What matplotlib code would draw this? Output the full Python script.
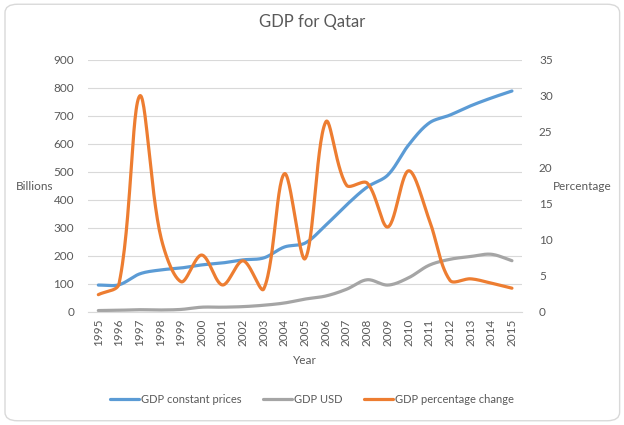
import numpy as np
import matplotlib
matplotlib.use("Agg")
import matplotlib.pyplot as plt
from matplotlib.patches import FancyBboxPatch

plt.rcParams['font.family'] = ['Lato', 'DejaVu Sans']

years = list(range(1995, 2016))
gdp_constant = [96, 97, 136, 150, 157, 168, 175, 186, 193, 232, 246,
                310, 382, 446, 489, 596, 675, 703, 736, 764, 789]
gdp_usd = [5, 6, 8, 7, 9, 17, 17, 19, 24, 32, 46,
           57, 81, 115, 96, 122, 167, 188, 198, 206, 183]
gdp_pct = [2.4, 3.9, 30.0, 10.7, 4.2, 7.9, 3.75, 7.1, 3.2, 19.2, 7.4,
           26.4, 17.6, 17.9, 11.8, 19.6, 12.8, 4.4, 4.6, 4.0, 3.3]


def smooth(x, y, sx, sy, n=30):
    """Excel-like smoothed line: Bezier through the points, control arms
    scaled by segment lengths in screen units (sx, sy = px per data unit)"""
    P = np.column_stack([np.asarray(x, float) * sx, np.asarray(y, float) * sy])
    m = len(P)
    ext = np.vstack([P[0], P, P[-1]])
    out = []
    t = np.linspace(0, 1, n)[:, None]
    # control points around each point
    before, after = [], []
    for i in range(m):
        prv, cur, nxt = ext[i], ext[i + 1], ext[i + 2]
        d1 = np.linalg.norm(cur - prv)
        d2 = np.linalg.norm(nxt - cur)
        T = nxt - prv
        s = d1 + d2 if d1 + d2 > 0 else 1
        before.append(cur - T * d1 / s / 3)
        after.append(cur + T * d2 / s / 3)
    for i in range(m - 1):
        p0, c1, c2, p3 = P[i], after[i], before[i + 1], P[i + 1]
        b = (1 - t) ** 3 * p0 + 3 * (1 - t) ** 2 * t * c1 + 3 * (1 - t) * t ** 2 * c2 + t ** 3 * p3
        out.append(b)
    b = np.vstack(out)
    return b[:, 0] / sx, b[:, 1] / sy


txt = "#595959"
grid = "#d9d9d9"

fig = plt.figure(figsize=(6.24, 4.25), dpi=100)
fig.patches.append(FancyBboxPatch((0.008, 0.01), 0.985, 0.98,
                                  boxstyle="round,pad=0,rounding_size=0.02",
                                  transform=fig.transFigure, facecolor="none",
                                  edgecolor=grid, linewidth=1, zorder=-5))

ax = fig.add_axes([0.141, 0.266, 0.696, 0.593])
ax2 = ax.twinx()
ax.set_zorder(ax2.get_zorder() - 1)
ax.patch.set_visible(False)
ax2.patch.set_visible(False)

px_year = 20.6
l1, = ax.plot(*smooth(years, gdp_constant, px_year, 252 / 900), color="#5b9bd5", lw=2.3,
              solid_capstyle="round", label="GDP constant prices")
l2, = ax.plot(*smooth(years, gdp_usd, px_year, 252 / 900), color="#a5a5a5", lw=2.3,
              solid_capstyle="round", label="GDP USD")
l3, = ax2.plot(*smooth(years, gdp_pct, px_year, 252 / 35), color="#ed7d31", lw=2.3,
               solid_capstyle="round", label="GDP percentage change")

ax.set_xlim(1994.5, 2015.5)
ax.set_ylim(0, 900)
ax2.set_ylim(0, 35)
ax.set_yticks(range(0, 901, 100))
ax2.set_yticks(range(0, 36, 5))
ax.set_xticks(years)
ax.set_xticklabels([str(y) for y in years], rotation=90)
ax.grid(axis="y", color=grid, linewidth=0.8)
ax.set_axisbelow(True)

for a in (ax, ax2):
    for s in a.spines.values():
        s.set_visible(False)
    a.tick_params(length=0, labelsize=8.5, colors=txt)
ax.spines["bottom"].set_visible(True)
ax.spines["bottom"].set_color(grid)
ax.tick_params(axis="y", pad=10)
ax2.tick_params(axis="y", pad=12)
ax.tick_params(axis="x", pad=5)

fig.text(35 / 624, 1 - 187 / 425, "Billions", ha="center", va="center", fontsize=8.5, color=txt)
fig.text(582 / 624, 1 - 187 / 425, "Percentage", ha="center", va="center", fontsize=8.5, color=txt)
ax.set_xlabel("Year", fontsize=8.5, color=txt, labelpad=6)
fig.text(0.5, 0.948, "GDP for Qatar", ha="center", va="center", fontsize=12, color=txt)

fig.legend(handles=[l1, l2, l3], loc="center", bbox_to_anchor=(0.5, 0.06), ncol=3,
           frameon=False, fontsize=8, labelcolor=txt, handlelength=2.6,
           handletextpad=0.2, columnspacing=1.9)

plt.savefig("out.png", dpi=100)
